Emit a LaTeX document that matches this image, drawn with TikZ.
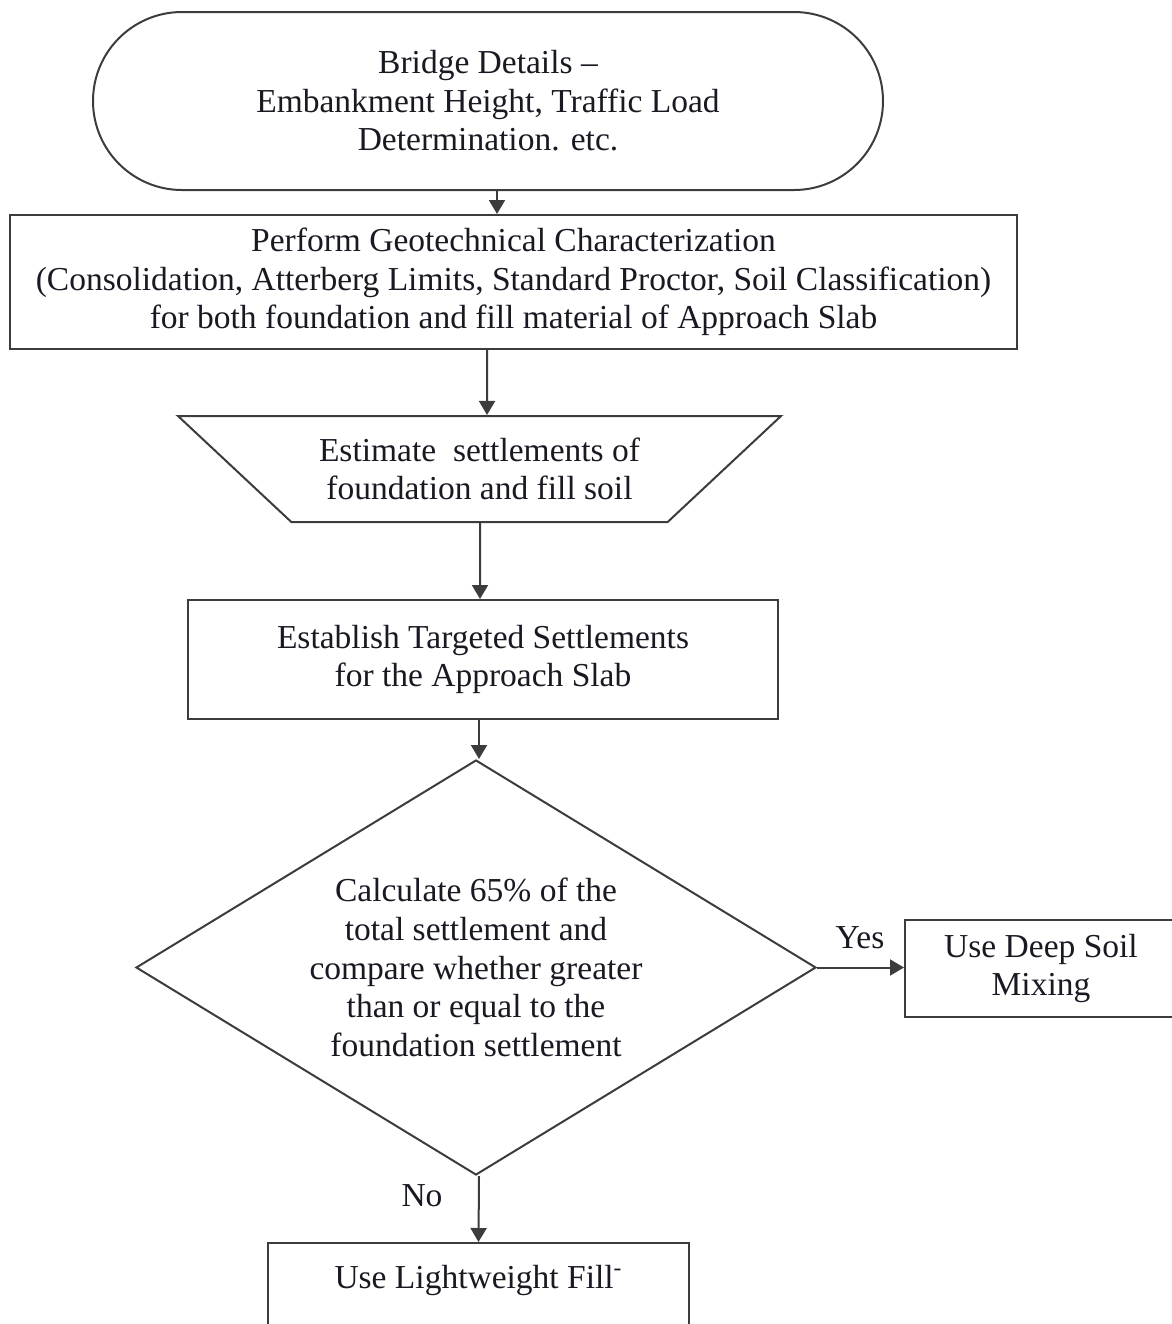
\documentclass[tikz,border=0pt]{standalone}
\usepackage{fontspec}
\setmainfont{Liberation Serif}
\usepackage{xcolor}
\usepackage{tikz}
\usetikzlibrary{shapes.misc,shapes.geometric,arrows.meta}
\definecolor{linegray}{RGB}{60,60,60}
\definecolor{textblack}{RGB}{25,25,35}

\begin{document}
\begin{tikzpicture}[x=0.5pt, y=-0.5pt,
    every node/.style={font=\fontsize{16.75}{19.3}\selectfont, text=textblack, align=center},
    box/.style={draw=linegray, line width=1pt, inner sep=0pt},
    arr/.style={draw=linegray, line width=1pt, -{Triangle[length=7pt,width=8pt]}}]
  \clip (0,0) rectangle (1172,1324);
  % Start: bridge details
  \node[box, rounded rectangle, minimum width=395pt, minimum height=89pt] (bridge) at (488,101)
    {Bridge Details --\\ Embankment Height, Traffic Load\\ Determination. etc.};
  % Geotechnical tests
  \node[box, rectangle, minimum width=503.5pt, minimum height=67pt] (geotech) at (513.5,282)
    {Perform Geotechnical Characterization\\ (Consolidation, Atterberg Limits, Standard Proctor, Soil Classification)\\ for both foundation and fill material of Approach Slab};
  % Settlement estimate (manual operation)
  \node[box, trapezium, shape border rotate=180, trapezium left angle=41, trapezium right angle=41,
        inner ysep=9pt, trapezium stretches body, minimum width=301.5pt, minimum height=53pt] (estimate) at (479.5,469)
    {Estimate\ \ settlements of\\ foundation and fill soil};
  % Target settlements
  \node[box, rectangle, minimum width=295pt, minimum height=59.5pt] (target) at (483,659.5)
    {Establish Targeted Settlements\\ for the Approach Slab};
  % Decision
  \node[box, diamond, shape aspect=1.64, minimum width=340pt, minimum height=207.5pt] (check) at (476,967.5)
    {Calculate 65\% of the\\ total settlement and\\ compare whether greater\\ than or equal to the\\ foundation settlement};
  % Outcomes
  \node[box, rectangle, minimum width=136pt, minimum height=48.5pt] (deepmix) at (1041,968.5)
    {Use Deep Soil\\ Mixing};
  \node[box, rectangle, minimum width=210.5pt, minimum height=53pt] (lightfill) at (478.5,1296)
    {Use Lightweight Fill\textsuperscript{-}\\ \mbox{}};
  % vertical connectors
  \foreach \from/\to/\sa/\sb in {bridge/geotech/4.5/-8.25, geotech/estimate/-13.25/3.75,
      estimate/target/0.25/-1.5, target/check/-2/1.5, check/lightfill/1.5/0} {
    \draw[arr] ([xshift=\sa pt]\from.south) -- ([xshift=\sb pt]\to.north);
  }
  % Yes branch
  \draw[arr] (check.east) -- (check.east -| deepmix.west);
  % Label: branch names
  \node (yes) at (860,938) {Yes};
  \node (no) at (422,1196) {No};
\end{tikzpicture}
\end{document}
